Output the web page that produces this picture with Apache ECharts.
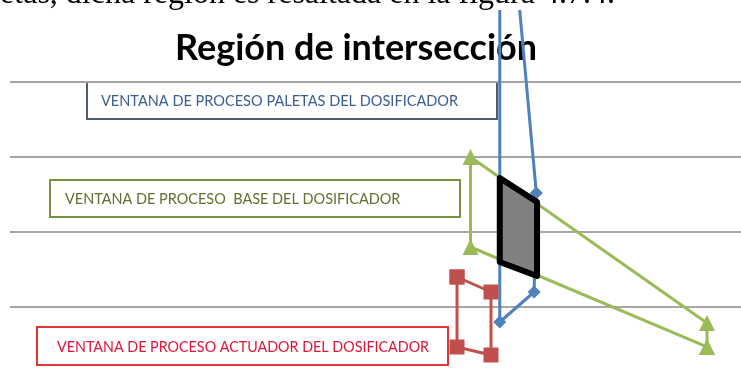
<!DOCTYPE html>
<html>
<head>
<meta charset="utf-8">
<title>Región de intersección</title>
<script src="https://cdn.jsdelivr.net/npm/echarts@6/dist/echarts.min.js"></script>
<style>
  html, body { margin: 0; padding: 0; background: #fff; }
  #chart { width: 741px; height: 379px; }
</style>
</head>
<body>
<div id="chart"></div>
<script>
// ventana de proceso paletas (azul)
const paletasX = [69.5, 72.0, 71.7, 67.0, 67.0];
const paletasY = [5.2, 2.52, 1.2, 0.8, 5.2];
// ventana de proceso base (verde)
const baseX = [95.35, 63.0, 63.0, 95.35, 95.35];
const baseY = [0.467, 1.8, 3.0, 0.787, 0.467];
// ventana de proceso actuador (rojo)
const actuadorX = [61.15, 65.8, 65.8, 61.15, 61.15];
const actuadorY = [1.4, 1.2, 0.36, 0.467, 1.4];
// region de interseccion (gris)
const regionX = [67.0, 72.1, 72.1, 67.0];
const regionY = [2.72, 2.4, 1.413, 1.6];
// lineas horizontales
const yMin = 1, yMax = 4, yStep = 1;

const zip = (xs, ys) => xs.map((x, i) => [x, ys[i]]);

let chart = echarts.init(document.getElementById('chart'));

function labelBox(x, y, w, h, pad, sx, text, border, color) {
  return {
    type: 'group',
    z: 1,
    children: [
      { type: 'rect', shape: { x: x, y: y, width: w, height: h },
        style: { fill: '#fff', stroke: border, lineWidth: 2 } },
      { type: 'text', x: x + pad, y: y + h / 2 + 1, scaleX: sx,
        style: { text: text, fill: color, font: '15.4px Lato', verticalAlign: 'middle' } }
    ]
  };
}

let option = {
  animation: false,
  grid: { left: 10, right: 0, top: 82, bottom: 72 },
  xAxis: { type: 'value', min: 0, max: 100, show: false },
  yAxis: {
    type: 'value',
    min: yMin,
    max: yMax,
    interval: yStep,
    axisLine: { show: false },
    axisTick: { show: false },
    axisLabel: { show: false },
    splitLine: { lineStyle: { color: '#a6a6a6', width: 2 } }
  },
  graphic: [
    // linea del documento que queda cortada arriba
    { type: 'rect', z: 100, shape: { x: 0, y: 0, width: 741, height: 10 }, style: { fill: '#fff' } },
    { type: 'text', z: 101, x: -39, y: -5.5,
      style: { text: 'paletas, dicha región es resaltada en la figura 4.7.4.', fill: '#000',
               font: '32px "Liberation Serif"', verticalAlign: 'middle' } },
    { type: 'text', z: 1, x: 175, y: 48,
      style: { text: 'Región de intersección', fill: '#000', font: 'bold 36px Lato', verticalAlign: 'middle' } },
    labelBox(87, 82, 410, 37, 14, 0.945, 'VENTANA DE PROCESO PALETAS DEL DOSIFICADOR', '#4d5b6e', '#3a5d92'),
    labelBox(50, 180, 410, 37, 15, 0.94, 'VENTANA DE PROCESO  BASE DEL DOSIFICADOR', '#7a9142', '#5f7030'),
    labelBox(37, 327, 411, 38, 20, 0.93, 'VENTANA DE PROCESO ACTUADOR DEL DOSIFICADOR', '#e03535', '#e0143a')
  ],
  series: [
    {
      type: 'line',
      name: 'Base',
      data: zip(baseX, baseY),
      clip: false,
      symbol: 'triangle',
      symbolSize: 16,
      lineStyle: { color: '#9bbb59', width: 3 },
      itemStyle: { color: '#9bbb59' }
    },
    {
      type: 'line',
      name: 'Actuador',
      data: zip(actuadorX, actuadorY),
      clip: false,
      symbol: 'rect',
      symbolSize: 15,
      lineStyle: { color: '#c0504d', width: 3 },
      itemStyle: { color: '#c0504d' }
    },
    {
      type: 'line',
      name: 'Paletas',
      data: zip(paletasX, paletasY),
      clip: false,
      symbol: 'diamond',
      symbolSize: 13,
      lineStyle: { color: '#4f81bd', width: 3 },
      itemStyle: { color: '#4f81bd' }
    },
    {
      type: 'custom',
      name: 'Region',
      clip: false,
      z: 5,
      itemStyle: { color: '#808080', borderColor: '#000', borderWidth: 6 },
      data: zip(regionX, regionY),
      renderItem: function (params, api) {
        if (params.dataIndex !== 0) return null;
        let pts = regionX.map((x, i) => api.coord([x, regionY[i]]));
        return {
          type: 'polygon',
          shape: { points: pts },
          style: { fill: '#808080', stroke: '#000', lineWidth: 6, lineJoin: 'round' }
        };
      }
    }
  ]
};

chart.setOption(option);
</script>
</body>
</html>
